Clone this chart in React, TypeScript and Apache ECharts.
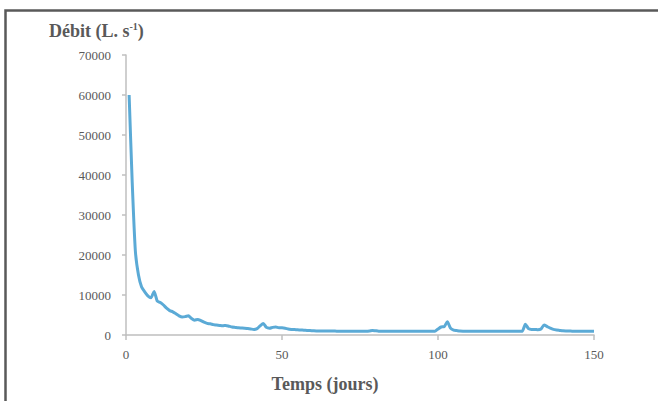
import React, { useEffect, useRef } from "react";
import * as echarts from "echarts";

const days: number[] = Array.from({ length: 150 }, (_, i) => i + 1);

const debit: number[] = [
  60000, 38000, 21000, 15000, 12000, 10800, 9800, 9300, 10900, 8500,
  8100, 7500, 6700, 6100, 5800, 5300, 4800, 4500, 4600, 4800,
  4100, 3700, 3900, 3600, 3200, 2900, 2800, 2600, 2500, 2400,
  2300, 2400, 2200, 2000, 1900, 1800, 1750, 1700, 1600, 1500,
  1400, 1600, 2300, 2900, 1900, 1700, 1900, 2000, 1800, 1800,
  1700, 1500, 1400, 1350, 1300, 1250, 1200, 1150, 1100, 1050,
  1000, 1000, 1000, 980, 980, 970, 970, 960, 960, 960,
  950, 950, 950, 950, 950, 950, 950, 1000, 1150, 1050,
  960, 950, 950, 950, 950, 950, 950, 950, 950, 950,
  950, 950, 950, 950, 950, 950, 950, 950, 950, 1500,
  2000, 2100, 3300, 1700, 1200, 1100, 1000, 960, 950, 950,
  950, 950, 950, 950, 950, 950, 950, 950, 950, 950,
  950, 950, 950, 950, 950, 950, 950, 2700, 1600, 1400,
  1400, 1300, 1500, 2500, 2100, 1700, 1400, 1250, 1150, 1050,
  1000, 980, 960, 950, 950, 950, 950, 950, 950, 950,
];

const xTicks = { min: 0, max: 150, interval: 50 };
const yTicks = { min: 0, max: 70000, interval: 10000 };

const yTitle = "Débit (L. s";
const ySup = "-1";
const xTitle = "Temps (jours)";

const FONT = "'Liberation Serif', 'DejaVu Serif', serif";
const TEXT = "#595959";
const AXIS = "#BFBFBF";

export default function App() {
  const ref = useRef<HTMLDivElement>(null);
  useEffect(() => {
    document.body.style.margin = "0";
    if (!ref.current) return;
    const chart = echarts.init(ref.current, undefined, { renderer: "svg" });
    chart.setOption({
      animation: false,
      backgroundColor: "#ffffff",
      grid: { left: 126, right: 64, top: 55, bottom: 66, containLabel: false },
      xAxis: {
        type: "value",
        min: xTicks.min,
        max: xTicks.max,
        interval: xTicks.interval,
        axisLine: { show: true, lineStyle: { color: AXIS, width: 1.5 } },
        axisTick: { show: true, length: 5, lineStyle: { color: AXIS, width: 1.5 } },
        axisLabel: {
          color: TEXT,
          fontFamily: FONT,
          fontSize: 13,
          margin: 13,
          formatter: (v: number) => String(v),
        },
        splitLine: { show: false },
      },
      yAxis: {
        type: "value",
        min: yTicks.min,
        max: yTicks.max,
        interval: yTicks.interval,
        axisLine: { show: true, lineStyle: { color: AXIS, width: 1.5 } },
        axisTick: { show: true, length: 4, lineStyle: { color: AXIS, width: 1.5 } },
        axisLabel: {
          color: TEXT,
          fontFamily: FONT,
          fontSize: 13,
          margin: 15,
          formatter: (v: number) => String(v),
        },
        splitLine: { show: false },
      },
      series: [
        {
          type: "line",
          data: days.map((d, i) => [d, debit[i]]),
          showSymbol: false,
          smooth: 0.2,
          lineStyle: { color: "#5BAAD6", width: 3 },
          itemStyle: { color: "#5BAAD6" },
        },
      ],
      graphic: [
        {
          type: "rect",
          shape: { x: 5.5, y: 10.5, width: 700, height: 450 },
          style: { fill: "none", stroke: "#595959", lineWidth: 2.5 },
          silent: true,
        },
        {
          type: "text",
          x: 49,
          y: 31,
          style: {
            text: `{a|${yTitle}}{s|${ySup}}{a|)}`,
            fill: TEXT,
            verticalAlign: "middle",
            rich: {
              a: { fontFamily: FONT, fontSize: 18, fontWeight: "bold", fill: TEXT },
              s: { fontFamily: FONT, fontSize: 10, fontWeight: "bold", fill: TEXT, padding: [0, 0, 9, 0] },
            },
          },
        },
        {
          type: "text",
          x: 325,
          y: 384,
          style: {
            text: xTitle,
            fontFamily: FONT,
            fontSize: 18,
            fontWeight: "bold",
            fill: TEXT,
            align: "center",
            verticalAlign: "middle",
          },
        },
      ],
    });
    return () => chart.dispose();
  }, []);
  return <div ref={ref} style={{ width: 658, height: 401 }} />;
}
